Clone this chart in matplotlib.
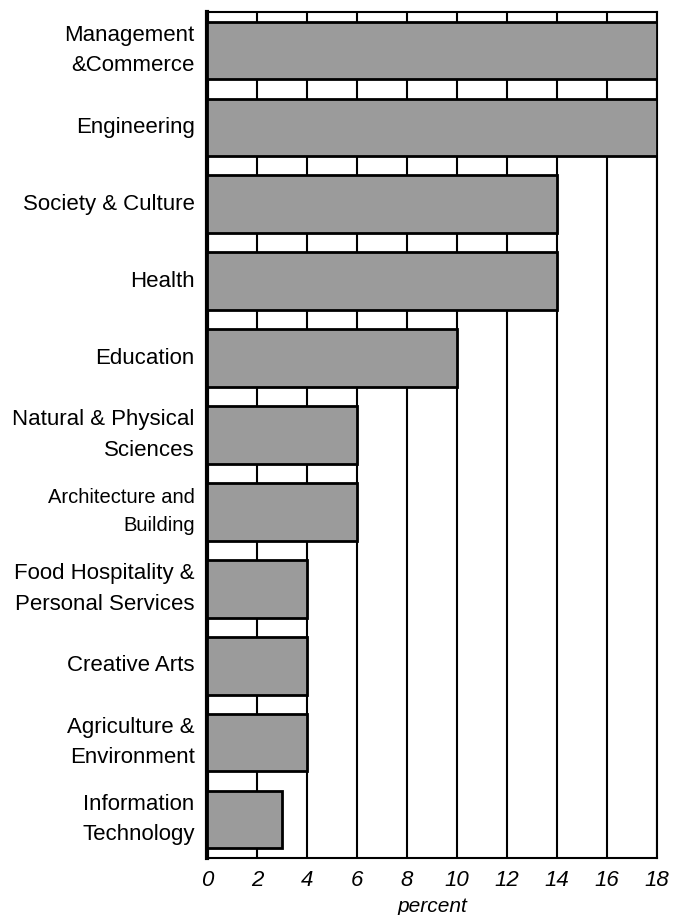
import matplotlib
matplotlib.use("Agg")
import matplotlib.pyplot as plt

# fields of study, top to bottom
categories = [
    "Management\n&Commerce",
    "Engineering",
    "Society & Culture",
    "Health",
    "Education",
    "Natural & Physical\nSciences",
    "Architecture and\nBuilding",
    "Food Hospitality &\nPersonal Services",
    "Creative Arts",
    "Agriculture &\nEnvironment",
    "Information\nTechnology",
]
values = [18, 18, 14, 14, 10, 6, 6, 4, 4, 4, 3]
xticks = [0, 2, 4, 6, 8, 10, 12, 14, 16, 18]

plt.rcParams["font.family"] = ["Liberation Sans", "DejaVu Sans"]

fig = plt.figure(figsize=(6.79, 9.15), dpi=100)
ax = fig.add_axes([0.3049, 0.0623, 0.6627, 0.9246])

y = list(range(len(categories)))
ax.barh(y, values, height=0.75, color="#9b9b9b", edgecolor="black",
        linewidth=2, zorder=3)

ax.set_xlim(0, 18)
ax.set_ylim(len(categories) - 0.5, -0.5)
ax.set_xticks(xticks)
ax.set_xticklabels([str(t) for t in xticks], fontsize=16, fontstyle="italic")
ax.set_yticks(y)
ax.set_yticklabels(categories, fontsize=16, linespacing=1.6, va="center")
# the architecture label is set a little smaller in the original
ax.get_yticklabels()[6].set_fontsize(14.5)
ax.tick_params(axis="both", length=0)
ax.tick_params(axis="x", pad=9)
ax.tick_params(axis="y", pad=9)

ax.grid(axis="x", color="black", linewidth=1.5, zorder=1)
ax.set_axisbelow(True)
for side in ["top", "right", "bottom"]:
    ax.spines[side].set_linewidth(1.5)
ax.spines["left"].set_linewidth(3)

ax.set_xlabel("percent", fontsize=15, fontstyle="italic", labelpad=4)

fig.savefig("out.png", dpi=100)
